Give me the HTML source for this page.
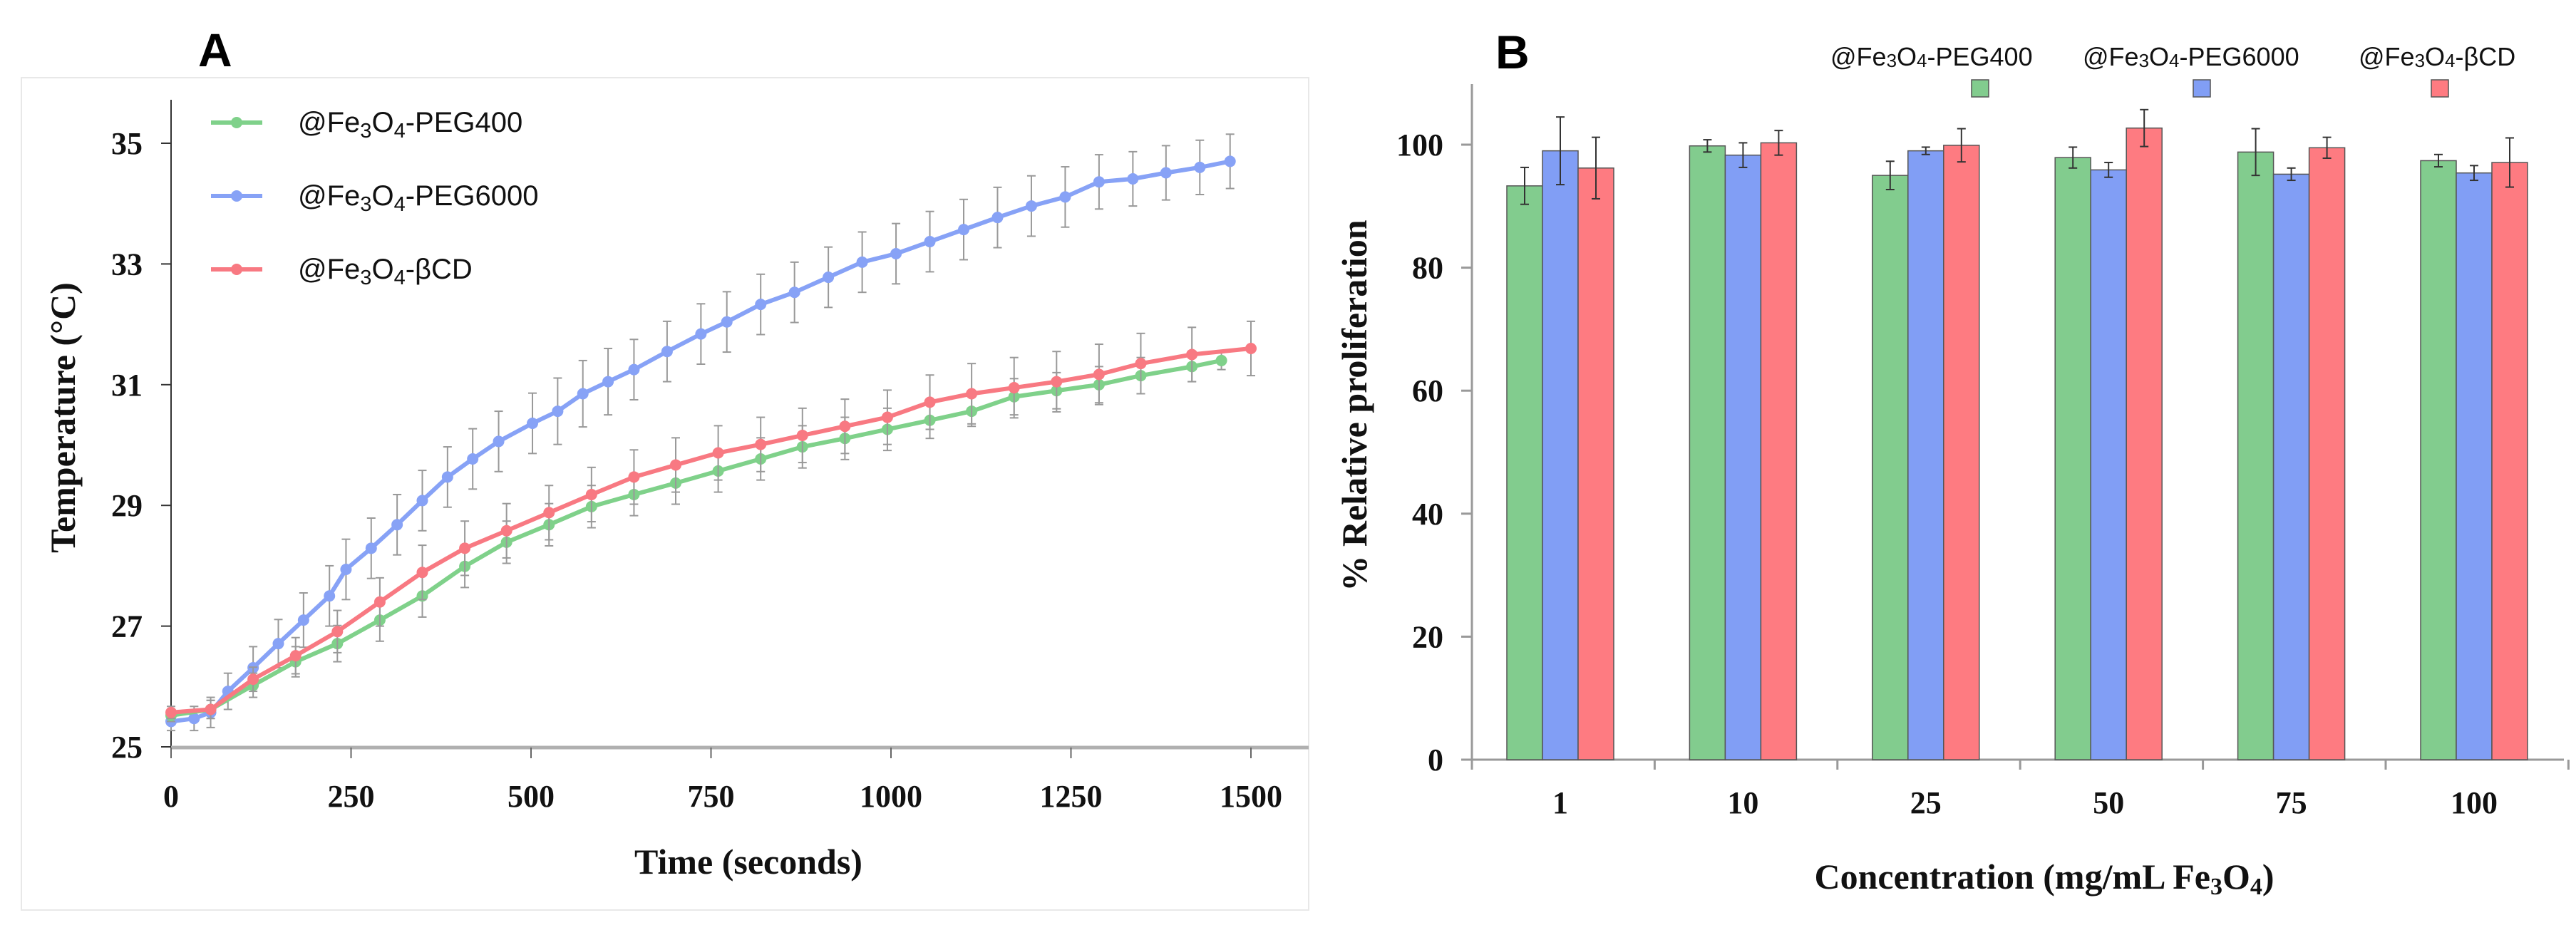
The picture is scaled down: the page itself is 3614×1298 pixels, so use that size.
<!DOCTYPE html>
<html><head><meta charset="utf-8"><style>
html,body{margin:0;padding:0;background:#fff;}
svg{display:block;}
.tk{font-family:"Liberation Serif",serif;font-weight:bold;font-size:44px;fill:#111;}
.ttl{font-family:"Liberation Serif",serif;font-weight:bold;font-size:50px;fill:#111;}
.lg{font-family:"Liberation Sans",sans-serif;font-size:40px;fill:#111;}
.lgb{font-family:"Liberation Sans",sans-serif;font-size:36px;fill:#111;}
.pl{font-family:"Liberation Sans",sans-serif;font-weight:bold;font-size:66px;fill:#000;}
</style></head><body>
<svg id="fig" width="3614" height="1298" viewBox="0 0 3614 1298" xmlns="http://www.w3.org/2000/svg">
<rect x="30" y="109" width="1806" height="1168" fill="none" stroke="#e8e8e8" stroke-width="2"/>
<text class="pl" x="278" y="93">A</text>
<text class="pl" x="2098" y="96">B</text>
<g id="ga"></g>
<g id="gb"></g>
</svg>
<script>
// ---- Panel A data ----
const tBlue=[0,32,55,79,114,149,184,220,243,278,314,349,384,419,455,502,537,572,607,643,689,736,772,819,866,913,960,1007,1054,1101,1148,1195,1242,1289,1336,1382,1429,1471];
const vBlue=[25.42,25.47,25.57,25.92,26.31,26.71,27.1,27.5,27.94,28.29,28.68,29.08,29.47,29.77,30.06,30.36,30.56,30.85,31.05,31.25,31.55,31.84,32.04,32.33,32.53,32.78,33.03,33.17,33.37,33.57,33.77,33.96,34.11,34.36,34.41,34.51,34.6,34.7];
const eBlue=[0.15,0.2,0.25,0.3,0.35,0.4,0.45,0.5,0.5,0.5,0.5,0.5,0.5,0.5,0.5,0.5,0.55,0.55,0.55,0.5,0.5,0.5,0.5,0.5,0.5,0.5,0.5,0.5,0.5,0.5,0.5,0.5,0.5,0.45,0.45,0.45,0.45,0.45];
const tRed=[0,55,114,173,231,290,349,408,466,525,584,643,701,760,819,877,936,995,1054,1112,1171,1230,1289,1347,1418,1500];
const vRed=[25.57,25.62,26.12,26.51,26.91,27.4,27.89,28.29,28.58,28.88,29.18,29.47,29.67,29.87,30.01,30.16,30.31,30.46,30.71,30.85,30.95,31.05,31.17,31.35,31.5,31.6];
const eRed=[0.1,0.15,0.2,0.3,0.35,0.4,0.45,0.45,0.45,0.45,0.45,0.45,0.45,0.45,0.45,0.45,0.45,0.45,0.45,0.5,0.5,0.5,0.5,0.5,0.45,0.45];
const tGreen=[0,55,114,173,231,290,349,408,466,525,584,643,701,760,819,877,936,995,1054,1112,1171,1230,1289,1347,1418,1459];
const vGreen=[25.52,25.62,26.02,26.41,26.71,27.1,27.5,27.99,28.39,28.68,28.98,29.18,29.37,29.57,29.77,29.97,30.11,30.26,30.41,30.56,30.8,30.9,31.0,31.15,31.3,31.4];
const eGreen=[0.1,0.15,0.2,0.25,0.3,0.35,0.35,0.35,0.35,0.35,0.35,0.35,0.35,0.35,0.35,0.35,0.35,0.35,0.3,0.25,0.3,0.3,0.3,0.3,0.25,0.15];
const xTicksA=[0,250,500,750,1000,1250,1500];
const yTicksA=[25,27,29,31,33,35];
// ---- Panel B data ----
const cats=["1","10","25","50","75","100"];
const bGreen=[93.3,99.8,95.0,97.9,98.8,97.4];
const bBlue=[99.0,98.3,99.0,95.9,95.2,95.4];
const bRed=[96.2,100.3,99.9,102.7,99.5,97.1];
const sdGreen=[3,1,2.3,1.7,3.8,1];
const sdBlue=[5.5,2,0.6,1.2,1,1.2];
const sdRed=[5,2,2.7,3,1.7,4];
const yTicksB=[0,20,40,60,80,100];

const NS="http://www.w3.org/2000/svg";
function mk(p,tag,at){const e=document.createElementNS(NS,tag);for(const k in at)e.setAttribute(k,at[k]);p.appendChild(e);return e;}

// Panel A
const ga=document.getElementById('ga');
const xA=t=>240+(t/1500)*(1755-240);
const yA=v=>1048-(v-25)/10*(1048-201);
let e=mk(ga,'line',{x1:240,y1:140,x2:240,y2:1048,stroke:'#333','stroke-width':2});


e=mk(ga,'line',{x1:240,y1:1049,x2:1836,y2:1049,stroke:'#b0b0b0','stroke-width':5});


yTicksA.forEach(v=>{
 mk(ga,'line',{x1:226,y1:yA(v),x2:240,y2:yA(v),stroke:'#333','stroke-width':2});
 const t=mk(ga,'text',{class:'tk',x:200,y:yA(v)+15,'text-anchor':'end'});t.textContent=v;
 
 
});
xTicksA.forEach(v=>{
 mk(ga,'line',{x1:xA(v),y1:1049,x2:xA(v),y2:1064,stroke:'#666','stroke-width':2});
 const t=mk(ga,'text',{class:'tk',x:xA(v),y:1132,'text-anchor':'middle'});t.textContent=v;
 
 
});
e=mk(ga,'text',{class:'ttl',x:1050,y:1226,'text-anchor':'middle'});e.textContent='Time (seconds)';


e=mk(ga,'text',{class:'ttl',x:0,y:0,'text-anchor':'middle',transform:'translate(105,586) rotate(-90)'});e.textContent='Temperature (°C)';


function series(ts,vs,es,col,name){
 const g=mk(ga,'g',{});
 
 
 ts.forEach((t,i)=>{
  const x=xA(t),y1=yA(vs[i]+es[i]),y2=yA(vs[i]-es[i]);
  mk(g,'line',{x1:x,y1:y1,x2:x,y2:y2,stroke:'#999','stroke-width':2});
  mk(g,'line',{x1:x-6,y1:y1,x2:x+6,y2:y1,stroke:'#999','stroke-width':2});
  mk(g,'line',{x1:x-6,y1:y2,x2:x+6,y2:y2,stroke:'#999','stroke-width':2});
 });
 mk(g,'polyline',{points:ts.map((t,i)=>xA(t)+','+yA(vs[i])).join(' '),fill:'none',stroke:col,'stroke-width':6});
 ts.forEach((t,i)=>{const c=mk(g,'circle',{cx:xA(t),cy:yA(vs[i]),r:8,fill:col});
  
  });
}
series(tBlue,vBlue,eBlue,'#87a2f6','series-peg6000');
series(tGreen,vGreen,eGreen,'#7fd18a','series-peg400');
series(tRed,vRed,eRed,'#f87982','series-bcd');
const legA=[['#7fd18a','PEG400',172],['#87a2f6','PEG6000',275],['#f87982','βCD',378]];
legA.forEach(l=>{
 const g=mk(ga,'g',{});
 
 
 mk(g,'line',{x1:296,y1:l[2],x2:368,y2:l[2],stroke:l[0],'stroke-width':6});
 mk(g,'circle',{cx:332,cy:l[2],r:8,fill:l[0]});
 const t=mk(g,'text',{class:'lg',x:418,y:l[2]+13});
 t.innerHTML='@Fe<tspan font-size="29" dy="8">3</tspan><tspan dy="-8">O</tspan><tspan font-size="29" dy="8">4</tspan><tspan dy="-8">-'+l[1]+'</tspan>';
});

// Panel B
const gb=document.getElementById('gb');
const yB=v=>1066-v/100*(1066-203);
const cx=i=>2189+i*256.4;
const bw=50;
e=mk(gb,'line',{x1:2065,y1:118,x2:2065,y2:1080,stroke:'#999','stroke-width':3});


e=mk(gb,'line',{x1:2050,y1:1066,x2:3597,y2:1066,stroke:'#999','stroke-width':3});


yTicksB.forEach(v=>{
 mk(gb,'line',{x1:2050,y1:yB(v),x2:2065,y2:yB(v),stroke:'#999','stroke-width':3});
 const t=mk(gb,'text',{class:'tk',x:2025,y:yB(v)+15,'text-anchor':'end'});t.textContent=v;
 
 
});
for(let i=0;i<=cats.length;i++){mk(gb,'line',{x1:2065+i*256.4,y1:1066,x2:2065+i*256.4,y2:1080,stroke:'#999','stroke-width':3});}
cats.forEach((c,i)=>{
 const t=mk(gb,'text',{class:'tk',x:cx(i),y:1141,'text-anchor':'middle'});t.textContent=c;
 
 
});
const sers=[[bGreen,sdGreen,'#82cc8e','bar-peg400'],[bBlue,sdBlue,'#819ef5','bar-peg6000'],[bRed,sdRed,'#fe7b81','bar-bcd']];
sers.forEach((s,k)=>{
 s[0].forEach((v,i)=>{
  const x=cx(i)-75+k*bw;
  const r=mk(gb,'rect',{x:x,y:yB(v),width:bw,height:1066-yB(v),fill:s[2],stroke:'#555','stroke-width':1.5});
  
  
  const m=x+bw/2,y1=yB(v+s[1][i]),y2=yB(v-s[1][i]);
  mk(gb,'line',{x1:m,y1:y1,x2:m,y2:y2,stroke:'#333','stroke-width':2});
  mk(gb,'line',{x1:m-6,y1:y1,x2:m+6,y2:y1,stroke:'#333','stroke-width':2});
  mk(gb,'line',{x1:m-6,y1:y2,x2:m+6,y2:y2,stroke:'#333','stroke-width':2});
 });
});
e=mk(gb,'text',{class:'ttl',x:2868,y:1247,'text-anchor':'middle'});
e.innerHTML='Concentration (mg/mL Fe<tspan font-size="34" dy="8">3</tspan><tspan dy="-8">O</tspan><tspan font-size="34" dy="8">4</tspan><tspan dy="-8">)</tspan>';


e=mk(gb,'text',{class:'ttl',x:0,y:0,'text-anchor':'middle',transform:'translate(1917,569) rotate(-90)'});e.textContent='% Relative proliferation';


const legB=[[2568,2766,'#82cc8e','PEG400'],[2922,3077,'#819ef5','PEG6000'],[3309,3411,'#fe7b81','βCD']];
legB.forEach(l=>{
 const g=mk(gb,'g',{});
 
 
 const t=mk(g,'text',{class:'lgb',x:l[0],y:92});
 t.innerHTML='@Fe<tspan font-size="26" dy="2">3</tspan><tspan dy="-2">O</tspan><tspan font-size="26" dy="2">4</tspan><tspan dy="-2">-'+l[3]+'</tspan>';
 mk(g,'rect',{x:l[1],y:112,width:24,height:24,fill:l[2],stroke:'#555','stroke-width':1.5});
});
</script>
</body></html>
